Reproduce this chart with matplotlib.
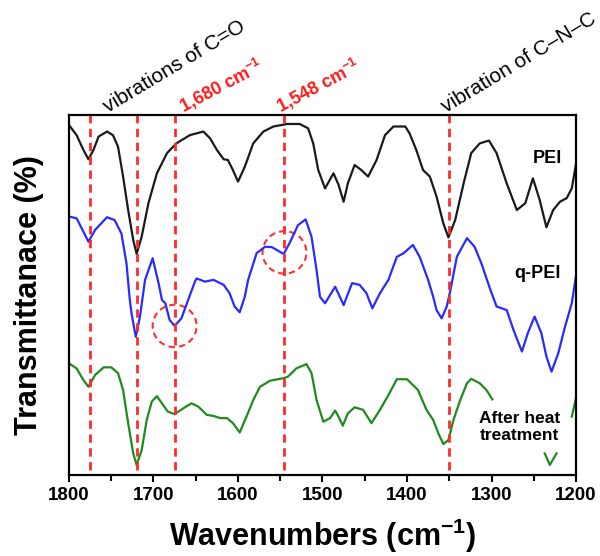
## Import Required Packages
import matplotlib.pyplot as plt
import numpy as np
from matplotlib.patches import Ellipse
from matplotlib.ticker import MultipleLocator

plt.rcParams['font.family'] = ['Liberation Sans', 'DejaVu Sans']
plt.rcParams['mathtext.fontset'] = 'custom'
plt.rcParams['mathtext.rm'] = 'Liberation Sans'
plt.rcParams['mathtext.bf'] = 'Liberation Sans:bold'

## Spectra (wavenumber, offset transmittance)
wn_pei = [1800, 1791, 1783, 1777, 1771, 1765, 1755, 1748, 1742, 1736, 1730, 1724,
          1720, 1714, 1706, 1696, 1684, 1673, 1657, 1641, 1633, 1625, 1617, 1612,
          1606, 1600, 1592, 1582, 1570, 1558, 1542, 1527, 1517, 1511, 1505, 1497,
          1487, 1481, 1475, 1470, 1462, 1454, 1446, 1436, 1426, 1416, 1402, 1397,
          1389, 1381, 1373, 1365, 1357, 1351, 1343, 1333, 1324, 1314, 1303, 1294,
          1282, 1270, 1260, 1251, 1243, 1235, 1227, 1219, 1211, 1205, 1200]
t_pei = [97.2, 94.4, 90.3, 87.7, 90.3, 94.0, 95.4, 94.4, 91.2, 82.9, 73.6, 65.3,
         61.4, 66.2, 75.5, 83.8, 89.4, 92.1, 94.4, 95.4, 93.5, 90.3, 87.7, 87.5,
         84.7, 81.5, 85.6, 92.1, 95.4, 96.8, 97.5, 97.5, 96.3, 92.1, 84.7, 79.6,
         83.8, 80.6, 75.9, 81.0, 86.1, 84.7, 82.9, 87.5, 94.4, 96.8, 96.8, 94.9,
         90.3, 84.7, 82.9, 77.3, 69.9, 66.0, 70.8, 81.0, 89.4, 92.1, 92.9, 89.4,
         81.0, 73.6, 75.5, 82.4, 76.4, 68.8, 73.6, 75.9, 76.9, 79.6, 86.4]

wn_qpei = [1800, 1791, 1783, 1777, 1769, 1755, 1746, 1738, 1732, 1728, 1726, 1721,
           1716, 1710, 1701, 1694, 1690, 1686, 1681, 1675, 1667, 1659, 1651, 1649,
           1639, 1629, 1617, 1610, 1604, 1598, 1592, 1588, 1578, 1568, 1560, 1546,
           1539, 1529, 1520, 1513, 1507, 1503, 1497, 1485, 1475, 1465, 1456, 1448,
           1441, 1432, 1422, 1412, 1404, 1393, 1385, 1375, 1369, 1365, 1359, 1353,
           1349, 1341, 1329, 1320, 1312, 1302, 1294, 1282, 1274, 1264, 1257, 1249,
           1241, 1235, 1229, 1221, 1213, 1205, 1200]
t_qpei = [71.8, 71.3, 67.6, 64.8, 68.1, 71.6, 70.8, 67.1, 58.8, 48.6, 44.9, 38.4,
          44.0, 54.2, 60.2, 53.3, 48.6, 47.7, 43.1, 41.4, 43.5, 48.6, 53.7, 54.6,
          53.7, 54.2, 52.8, 50.5, 46.8, 45.2, 49.5, 54.2, 61.6, 63.4, 63.3, 61.4,
          64.4, 69.4, 71.0, 66.2, 56.9, 49.5, 47.7, 52.3, 47.2, 53.3, 52.8, 50.5,
          46.3, 50.5, 54.2, 60.6, 61.6, 63.9, 60.6, 54.2, 49.5, 45.8, 43.5, 46.8,
          50.9, 60.6, 65.8, 63.4, 58.8, 51.9, 46.8, 45.8, 40.3, 34.3, 39.4, 44.0,
          39.4, 32.9, 28.7, 33.8, 41.2, 47.7, 55.3]

# green trace is hidden behind its label in two places (nan = gap)
wn_heat = [1800, 1791, 1783, 1777, 1769, 1759, 1750, 1742, 1736, 1730, 1724, 1720,
           1714, 1708, 1702, 1696, 1690, 1683, 1675, 1665, 1655, 1647, 1637, 1629,
           1621, 1613, 1606, 1598, 1590, 1582, 1574, 1562, 1546, 1541, 1531, 1519,
           1513, 1507, 1499, 1491, 1485, 1481, 1476, 1470, 1462, 1452, 1442, 1432,
           1422, 1412, 1400, 1387, 1377, 1369, 1363, 1357, 1351, 1345, 1337, 1329,
           1324, 1314, 1306, 1299, 1270, 1237, 1231, 1223, 1214, 1205, 1200]
t_heat = [31.0, 29.6, 26.4, 24.5, 27.8, 29.9, 29.9, 28.3, 23.6, 14.4, 6.0, 2.8,
          6.9, 15.3, 20.4, 21.9, 19.9, 17.6, 16.9, 18.5, 19.9, 19.0, 16.7, 16.4,
          15.8, 15.8, 14.4, 11.8, 16.2, 20.8, 24.5, 26.2, 26.9, 27.3, 29.6, 30.8,
          28.3, 20.8, 14.8, 15.8, 17.9, 16.2, 13.7, 17.1, 18.8, 18.1, 14.4, 18.1,
          22.2, 26.6, 26.6, 23.6, 18.1, 15.3, 11.6, 8.6, 9.7, 15.3, 20.8, 25.5,
          26.7, 25.5, 23.6, 21.0, np.nan, 6.0, 2.8, 6.0, np.nan, 16.2, 21.4]

peak_lines = [1775, 1720, 1675, 1545, 1350]
circled = [1675, 1545]
names = ['PEI', 'q-PEI', 'After heat\ntreatment']

fig = plt.figure(figsize=(6, 5.56), dpi=100)
ax = fig.add_axes([0.115, 0.1457, 0.845, 0.6475])

## Draw the three spectra
ax.plot(wn_pei, t_pei, color='#1a1a1a', lw=1.6, solid_joinstyle='round')
ax.plot(wn_qpei, t_qpei, color='#2a2aff', lw=1.6, solid_joinstyle='round')
ax.plot(wn_heat, t_heat, color='#1f8a1f', lw=1.6, solid_joinstyle='round')

## Dashed marker lines and circles
for w in peak_lines:
    ax.axvline(w, ymin=0.014, ymax=1, color='#ff2a2a', lw=2, ls=(0, (3, 2)))
for w in circled:
    yc = np.interp(w, wn_qpei[::-1], t_qpei[::-1])
    ax.add_patch(Ellipse((w, yc), 52, 11.8, fill=False, ec='#ff3030', lw=1.5,
                         ls=(0, (3, 2))))

## Curve labels
ax.text(1234, 88, names[0], fontsize=13, fontweight='bold', ha='center', va='center')
ax.text(1246, 56, names[1], fontsize=13, fontweight='bold', ha='center', va='center')
ax.text(1267, 13.3, names[2], fontsize=12.5, fontweight='bold', ha='center',
        va='center', linespacing=1.15)

## Rotated notes above the frame
tr = ax.get_xaxis_transform()
ax.text(1754, 1.005, 'vibrations of C=O', transform=tr, rotation=31, fontsize=15,
        rotation_mode='anchor', ha='left', va='baseline', clip_on=False)
ax.text(1664, 1.005, '1,680 cm$^{\\mathbf{-1}}$', transform=tr, rotation=28, fontsize=13,
        color='#ff1a1a', fontweight='bold', rotation_mode='anchor', ha='left',
        va='baseline', clip_on=False)
ax.text(1550, 1.005, '1,548 cm$^{\\mathbf{-1}}$', transform=tr, rotation=28, fontsize=13,
        color='#ff1a1a', fontweight='bold', rotation_mode='anchor', ha='left',
        va='baseline', clip_on=False)
ax.text(1354, 1.005, 'vibration of C\u2013N\u2013C', transform=tr, rotation=31, fontsize=15,
        rotation_mode='anchor', ha='left', va='baseline', clip_on=False)

## Axes
ax.set_xlim(1800, 1200)
ax.set_ylim(0, 100)
ax.xaxis.set_major_locator(MultipleLocator(100))
ax.xaxis.set_minor_locator(MultipleLocator(50))
ax.tick_params(axis='x', which='major', length=5, width=1.5, direction='out',
               labelsize=13.5, pad=4)
ax.tick_params(axis='x', which='minor', length=4, width=1.5, direction='out')
for lab in ax.get_xticklabels():
    lab.set_fontweight('bold')
ax.set_yticks([])
for s in ax.spines.values():
    s.set_linewidth(1.6)
ax.set_xlabel('Wavenumbers (cm$^{\\mathbf{-1}}$)', fontsize=22, fontweight='bold', labelpad=9)
ax.set_ylabel('Transmittanace (%)', fontsize=22, fontweight='bold', labelpad=18)

fig.savefig('out.png', dpi=100)
